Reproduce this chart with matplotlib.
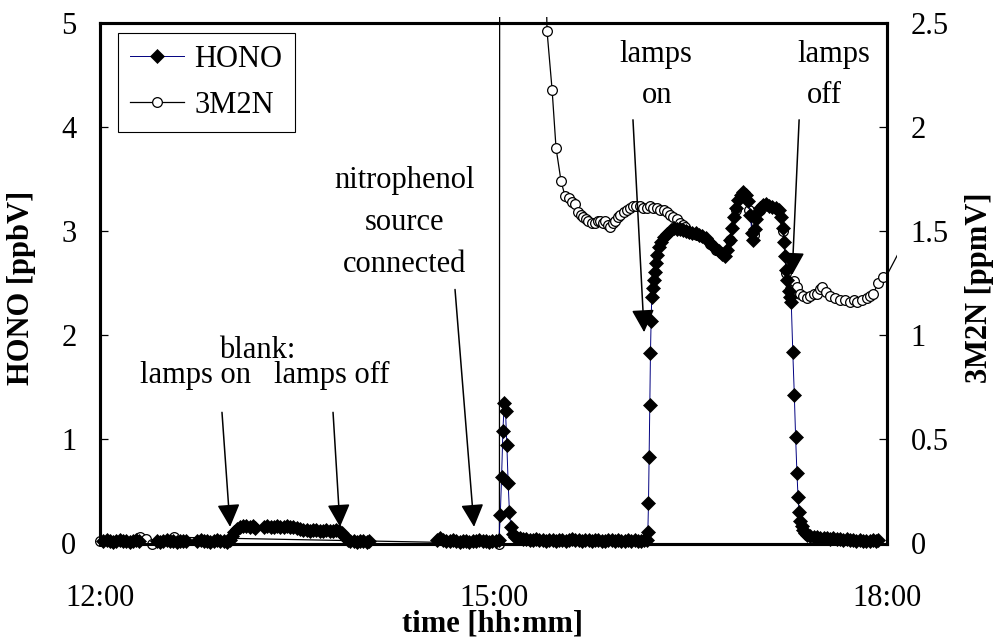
import numpy as np
import matplotlib
matplotlib.use("Agg")
import matplotlib.pyplot as plt
from matplotlib.lines import Line2D
from matplotlib.transforms import Bbox, TransformedBbox

plt.rcParams['font.family'] = ['Liberation Serif', 'DejaVu Serif']
FS = 22
nan = float('nan')

# HONO mixing ratio [ppbV]; time in minutes after 12:00 (nan = no data)
hono_min = [
    1.5, 3, 4.5, 6, 7.5, 9, 10.5, 12, 13.5, 15, 16.5, 18, 22,
    26, 27.5, 29, 30.5, 32, 33.5, 35, 36.5, 38, 39.5, 42,
    44.5, 46, 47.5, 49, 50.5, 52, 53.5, 55, 56.5, 58, 59.5, 60.5, 61.5, 62.5, 64, 65.5, 67, 68.5, 70, 71, 73,
    75, 76.5, 78, 79.5, 81, 82.5, 84, 85.5, 87, 88.5, 90, 91.5, 93, 94.5, 96, 97.5, 99, 100.5, 102, 103.5, 105, 106.5, 108, 109.5,
    110.5, 111.5, 112.5, 113.5, 114.5, 116, 117.5, 119, 120.5, 122, 123, 140,
    154, 155.5, 157, 158.5, 160, 161.5, 163, 164.5, 166, 167.5, 169, 170.5, 172, 173.5, 175, 176.5, 178, 179.5, 181, 182.5,
    183.1, 183.7, 184.3, 184.9, 185.5, 186.1, 186.7, 187.3, 188.0, 188.8, 189.7, 190.6,
    192, 193.5, 195, 196.5, 198, 199.5, 201, 202.5, 204, 205.5, 207, 208.5, 210, 211.5, 213, 214.5, 216, 217.5, 219, 220.5,
    222, 223.5, 225, 226.5, 228, 229.5, 231, 232.5, 234, 235.5, 237, 238.5, 240, 241.5, 243, 244.5, 246, 247.5, 249, 250.2,
    250.6, 250.9, 251.2, 251.5, 251.8, 252.1, 252.4, 252.8, 253.3, 253.8, 254.2, 254.9, 255.6, 256.6, 257.9, 259.3,
    261.1, 262.4, 263.8, 265.1, 266.5, 268, 269.5, 271, 272.5, 274, 275.5, 277, 278.5, 280, 281.5, 283, 284.5, 286,
    287, 288, 289, 290, 291, 292, 293, 294.3, 295.5, 296.5, 297.5, 298.2, 298.8, 299.4, 300.2, 301, 302,
    303.2, 304.5, 306, 307.5, 309, 310.5, 311.7, 312.4, 312.9, 313.3, 313.8, 314.4, 315, 315.6, 316.2,
    316.9, 317.6, 318.2, 318.8, 319.3, 319.8, 320.4, 321, 321.7, 322.5, 323.5, 325,
    326.5, 328, 329.5, 331, 332.5, 334, 335.5, 337, 338.5, 340, 341.5, 343, 344.5, 346, 347.5, 349, 350.5, 352, 353.5, 355, 356,
]
hono_ppbv = [
    0.02, 0.03, 0.02, 0.01, 0.02, 0.03, 0.02, 0.02, 0.01, 0.02, 0.03, 0.02, nan,
    0.02, 0.01, 0.02, 0.03, 0.02, 0.02, 0.01, 0.02, 0.02, 0.02, nan,
    0.02, 0.03, 0.02, 0.02, 0.01, 0.02, 0.03, 0.02, 0.02, 0.01, 0.03, 0.07, 0.11, 0.14, 0.16, 0.17, 0.17, 0.16, 0.17, 0.15, nan,
    0.16, 0.17, 0.16, 0.16, 0.17, 0.16, 0.16, 0.17, 0.16, 0.16, 0.15, 0.14, 0.13, 0.13, 0.12, 0.13, 0.13, 0.12, 0.12, 0.13, 0.12, 0.12, 0.13, 0.12,
    0.10, 0.07, 0.05, 0.03, 0.02, 0.02, 0.01, 0.02, 0.02, 0.01, 0.02, nan,
    0.03, 0.05, 0.03, 0.02, 0.02, 0.03, 0.02, 0.01, 0.02, 0.02, 0.01, 0.02, 0.02, 0.03, 0.02, 0.02, 0.01, 0.02, 0.02, 0.03,
    0.27, 0.64, 1.08, 1.35, 1.27, 0.95, 0.58, 0.30, 0.16, 0.09, 0.06, 0.05,
    0.05, 0.04, 0.04, 0.03, 0.03, 0.04, 0.03, 0.03, 0.02, 0.03, 0.03, 0.02, 0.03, 0.03, 0.02, 0.03, 0.04, 0.03, 0.03, 0.02,
    0.03, 0.03, 0.02, 0.03, 0.03, 0.02, 0.02, 0.03, 0.03, 0.02, 0.03, 0.02, 0.02, 0.03, 0.02, 0.03, 0.02, 0.02, 0.03, 0.03,
    0.11, 0.39, 0.83, 1.33, 1.83, 2.14, 2.37, 2.45, 2.53, 2.61, 2.69, 2.77, 2.85, 2.90, 2.94, 2.97,
    3.01, 3.03, 3.02, 3.02, 3.01, 3.00, 2.99, 2.98, 2.98, 2.96, 2.95, 2.93, 2.90, 2.87, 2.84, 2.81, 2.78, 2.76,
    2.82, 2.92, 3.03, 3.14, 3.22, 3.30, 3.35, 3.38, 3.35, 3.29, 3.16, 2.98, 2.92, 3.02, 3.12, 3.18, 3.22,
    3.25, 3.26, 3.24, 3.23, 3.22, 3.20, 3.14, 3.03, 2.90, 2.76, 2.63, 2.53, 2.43, 2.37, 2.32,
    1.84, 1.43, 1.02, 0.68, 0.45, 0.30, 0.22, 0.17, 0.13, 0.10, 0.08, 0.07,
    0.06, 0.06, 0.05, 0.05, 0.05, 0.04, 0.05, 0.04, 0.04, 0.03, 0.04, 0.03, 0.03, 0.02, 0.03, 0.02, 0.02, 0.02, 0.03, 0.02, 0.03,
]

# 3-methyl-2-nitrophenol [ppmV]; time in minutes after 12:00
m2n_min = [
    0, 18.3, 21.0, 23.8, 33.9, 182.7, 183.1, 190, 197, 202.8,
    204.5, 206.8, 208.6, 210.9, 212.7, 214.6, 216.0, 217.3, 218.7, 220.0, 221.0, 222.2, 223.3, 225.0, 226.5, 227.7, 228.8, 230.0,
    231.0, 232.2, 233.3, 234.5, 235.6, 236.8, 237.9, 239.5, 241.1, 242.5, 243.8, 245.4, 247.0, 248.6, 250.2, 251.6, 253.0, 254.6,
    256.2, 257.8, 259.4, 260.8, 262.2, 263.8, 265.3, 266.5, 267.6,
    270, 273, 276, 279, 282, 285, 288, 291, 294, 297, 299, 302, 306, 310, 312.5, 314,
    315.7, 317.5, 318.9, 320.3, 321.6, 323.2, 324.8, 326.4, 328.0, 329.4, 330.3, 332.2, 334.0, 336.3,
    338.6, 340.8, 343.1, 344.7, 346.3, 348.6, 350.9, 352.3, 353.7, 355.9, 358.2, 360.5, 368,
]
m2n_ppmv = [
    0.01, 0.03, 0.02, 0.00, 0.03, 0.00, 9.0, 14.0, 8.0, 3.3,
    2.46, 2.18, 1.90, 1.74, 1.67, 1.66, 1.64, 1.63, 1.59, 1.58, 1.57, 1.56, 1.55, 1.54, 1.54, 1.55, 1.55, 1.54,
    1.55, 1.53, 1.52, 1.54, 1.55, 1.57, 1.58, 1.59, 1.60, 1.61, 1.62, 1.62, 1.62, 1.61, 1.61, 1.62, 1.61, 1.61,
    1.60, 1.60, 1.59, 1.58, 1.57, 1.56, 1.54, 1.53, 1.52,
    1.49, 1.48, 1.47, 1.44, 1.41, 1.39, 1.46, 1.60, 1.68, 1.60, 1.48, 1.60, 1.62, 1.60, 1.50, 1.30,
    1.22, 1.26, 1.23, 1.20, 1.19, 1.18, 1.19, 1.20, 1.20, 1.22, 1.23, 1.21, 1.19, 1.18,
    1.17, 1.17, 1.16, 1.17, 1.16, 1.17, 1.18, 1.19, 1.20, 1.25, 1.28, 1.30, 1.45,
]

time_ticks = [0, 180, 360]
time_labels = ['12:00', '15:00', '18:00']
hono_ticks = [0, 1, 2, 3, 4, 5]
m2n_ticks = [0, 0.5, 1, 1.5, 2, 2.5]
m2n_labels = ['0', '0.5', '1', '1.5', '2', '2.5']

assert len(hono_min) == len(hono_ppbv)
assert len(m2n_min) == len(m2n_ppmv)

W, H = 993, 639
fig = plt.figure(figsize=(W / 100, H / 100), dpi=100)
fig.patch.set_facecolor('white')
ax = fig.add_axes([100 / W, 1 - 543.5 / H, 787 / W, 520.5 / H])
ax2 = ax.twinx()
ax.set_zorder(ax2.get_zorder() + 1)
ax.patch.set_visible(False)

ax.set_xlim(0, 360)
ax.set_ylim(0, 5)
ax2.set_ylim(0, 2.5)

HONO_LINE = '#000080'
D_MS, O_MS = 7.0, 7.0

# 3M2N: line may run a little past the frame, markers only inside the range
t3 = np.array(m2n_min)
v3 = np.array(m2n_ppmv)
ln3, = ax2.plot(t3, v3, '-', color='black', lw=0.9, zorder=2)
ln3.set_clip_box(TransformedBbox(Bbox([[-0.002, -0.002], [1.0127, 1.0115]]), ax2.transAxes))
inside = (v3 <= 2.5) & (t3 <= 360)
ax2.plot(t3[inside], v3[inside], linestyle='none', marker='o', ms=O_MS,
         mfc='white', mec='black', mew=0.9, clip_on=False, zorder=3)

# HONO
ax.plot(hono_min, hono_ppbv, '-', color=HONO_LINE, lw=0.7, marker='D', ms=D_MS,
        mfc='black', mec='black', mew=0.5, clip_on=False, zorder=3)

for a in (ax, ax2):
    for s in a.spines.values():
        s.set_linewidth(2.2)
        s.set_color('black')

ax.set_xticks(time_ticks, time_labels)
ax.tick_params(axis='x', length=0, pad=29, labelsize=FS)
ax.set_yticks(hono_ticks)
ax.tick_params(axis='y', direction='in', length=5.5, width=0.9, pad=17, labelsize=FS)
ax2.set_yticks(m2n_ticks, m2n_labels)
ax2.tick_params(axis='y', direction='in', length=5.5, width=0.9, pad=17, labelsize=FS)

fig.text(22 / W, 1 - 288 / H, 'HONO [ppbV]', rotation=90, ha='center', va='center',
         fontsize=FS, fontweight='bold')
fig.text(979 / W, 1 - 288 / H, '3M2N [ppmV]', rotation=90, ha='center', va='center',
         fontsize=FS, fontweight='bold')
fig.text(492 / W, 1 - 632 / H, 'time [hh:mm]', ha='center', va='baseline',
         fontsize=FS, fontweight='bold')

# annotations: (text, x, y) and arrows (start -> tip), in minutes / ppbV
notes = [
    ('blank:', 71.8, 1.782), ('lamps on', 43.5, 1.542), ('lamps off', 106.1, 1.542),
    ('nitrophenol', 139.5, 3.415), ('source', 139.5, 3.012), ('connected', 139.5, 2.608),
    ('lamps', 254.4, 4.625), ('on', 254.7, 4.231),
    ('lamps', 335.8, 4.625), ('off', 331.5, 4.231),
]
for txt, x, y in notes:
    ax.text(x, y, txt, ha='center', va='baseline', fontsize=FS, zorder=6)

arrows = [
    ((55.8, 1.26), (59.5, 0.16)),
    ((106.6, 1.26), (109.8, 0.16)),
    ((162.4, 2.44), (171.1, 0.16)),
    ((243.8, 4.07), (248.9, 2.03)),
    ((319.8, 4.07), (316.6, 2.58)),
]
for start, tip in arrows:
    ax.annotate('', xy=tip, xytext=start, annotation_clip=False, zorder=6,
                arrowprops=dict(arrowstyle='-|>,head_length=0.7,head_width=0.35',
                                mutation_scale=20, lw=1.1, color='black',
                                shrinkA=0, shrinkB=0))

handles = [
    Line2D([], [], color=HONO_LINE, lw=0.7, marker='D', ms=D_MS, mfc='black', mec='black', mew=0.5),
    Line2D([], [], color='black', lw=0.9, marker='o', ms=O_MS, mfc='white', mec='black', mew=0.9),
]
leg = ax.legend(handles, ['HONO', '3M2N'], loc='upper left', bbox_to_anchor=(0.0229, 0.981),
                borderaxespad=0, fancybox=False, edgecolor='black', framealpha=1,
                fontsize=FS, handlelength=1.75, handletextpad=0.35, borderpad=0.4,
                labelspacing=0.55)
leg.get_frame().set_linewidth(0.8)
leg.set_zorder(10)

fig.savefig('out.png', dpi=100, facecolor='white')
